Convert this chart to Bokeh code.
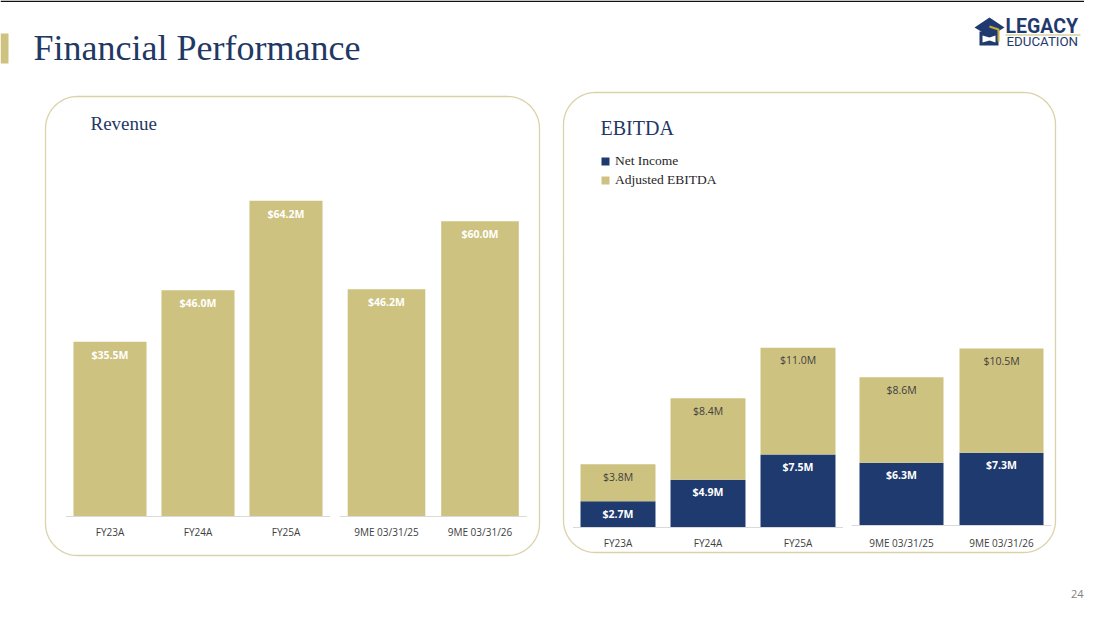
import numpy as np
from bokeh.plotting import figure
from bokeh.models import Range1d, ColumnDataSource, Legend, LegendItem
from bokeh.core.properties import value
from bokeh.embed import file_html
from bokeh.resources import INLINE

# ---------------- data ----------------
categories_fy = ["FY23A", "FY24A", "FY25A"]
categories_9me = ["9ME 03/31/25", "9ME 03/31/26"]
revenue_fy = [35.5, 46.0, 64.2]
revenue_9me = [46.2, 60.0]
net_income_fy = [2.7, 4.9, 7.5]
net_income_9me = [6.3, 7.3]
adj_ebitda_fy = [3.8, 8.4, 11.0]
adj_ebitda_9me = [8.6, 10.5]

# ---------------- style ----------------
GOLD = "#CEC280"
NAVY = "#1F3A6E"
TITLE_NAVY = "#1F3864"
PANEL_LINE = "#DAD2A8"
AXIS_LINE = "#D9D9D9"
LABEL_GRAY = "#404040"
SERIF = value("Liberation Serif")
SANS = value("Open Sans")

W, H = 1084, 605
OX, OY = 0, 0

p = figure(width=W, height=H, x_range=Range1d(OX, OX + W), y_range=Range1d(OY + H, OY),
           output_backend="svg", toolbar_location=None, x_axis_type=None, y_axis_type=None,
           min_border=0, outline_line_color=None, background_fill_color="white",
           border_fill_color="white")
for g in p.grid:
    g.visible = False


def add_sub(name, center0, spacing, base_px, px_per_unit):
    xs = -(center0 - OX) / spacing
    p.extra_x_ranges[name] = Range1d(xs, xs + W / spacing)
    ys = -(OY + H - base_px) / px_per_unit
    p.extra_y_ranges[name] = Range1d(ys, ys + H / px_per_unit)


def rrect(x0, y0, x1, y1, r, n=20):
    t = np.linspace(0, np.pi / 2, n)
    xs, ys = [], []
    for cx, cy, a0 in [(x0 + r, y0 + r, np.pi), (x1 - r, y0 + r, 1.5 * np.pi),
                       (x1 - r, y1 - r, 0.0), (x0 + r, y1 - r, 0.5 * np.pi)]:
        a = a0 + t
        xs += list(cx + r * np.cos(a))
        ys += list(cy + r * np.sin(a))
    xs.append(xs[0]); ys.append(ys[0])
    return xs, ys


# ---------------- header ----------------
p.segment(x0=[0], y0=[0.8], x1=[W], y1=[0.8], line_color="#111111", line_width=1.6)
p.quad(left=[0], right=[8], top=[33], bottom=[63], fill_color=GOLD, line_color=None)
p.text(x=[33], y=[47], text=["Financial Performance"], text_font=SERIF,
       text_font_size="36px", text_color=TITLE_NAVY, text_baseline="middle")

# logo
p.patch(x=[979, 979, 998, 998], y=[31, 45, 45, 31], fill_color=NAVY, line_color=None)
p.patch(x=[982, 982, 989, 995, 995, 989], y=[35, 42, 40, 42, 35, 37], fill_color="white", line_color=None)
p.patch(x=[974, 989, 1004, 989], y=[27, 17, 27, 36], fill_color=NAVY, line_color=None)
p.line(x=[989, 998, 998], y=[26, 29, 41], line_color="#C9A93A", line_width=2)
p.text(x=[1005], y=[25.5], text=["LEGACY"], text_font=value("Roboto"), text_font_size="19.5px",
       text_color=NAVY, text_baseline="middle", text_font_style="bold")
p.segment(x0=[1005], y0=[34.5], x1=[1080], y1=[34.5], line_color="#C9B870", line_width=1)
p.text(x=[1006], y=[40.5], text=["EDUCATION"], text_font=value("Roboto"), text_font_size="13.3px",
       text_color=NAVY, text_baseline="middle")

# panels
for box in [(45, 96, 539, 555), (563, 92, 1055, 552)]:
    xs, ys = rrect(*box, r=32)
    p.line(x=xs, y=ys, line_color=PANEL_LINE, line_width=1.3)

p.text(x=[90], y=[122.5], text=["Revenue"], text_font=SERIF, text_font_size="19px",
       text_color=TITLE_NAVY, text_baseline="middle")
p.text(x=[600], y=[127], text=["EBITDA"], text_font=SERIF, text_font_size="20px",
       text_color=TITLE_NAVY, text_baseline="middle")

# page number
p.text(x=[1083], y=[593], text=["24"], text_font=SANS, text_font_size="11px",
       text_color="#7F7F7F", text_align="right", text_baseline="middle")


def fmt(v):
    return [f"${x:.1f}M" for x in v]


def axis_and_labels(name, cats, offset):
    n = len(cats)
    p.segment(x0=[-0.5], y0=[0], x1=[n - 0.5], y1=[0], line_color=AXIS_LINE, line_width=1,
              x_range_name=name, y_range_name=name)
    p.text(x=list(range(n)), y=[0] * n, text=cats, text_font=SANS, text_font_size="10px",
           text_color=LABEL_GRAY, text_align="center", text_baseline="middle", y_offset=offset,
           x_range_name=name, y_range_name=name)


# ---------------- revenue ----------------
add_sub("rev_fy", 109.5, 88, 516, 4.92)
add_sub("rev_9me", 386, 93.5, 516, 4.92)
for name, cats, vals in [("rev_fy", categories_fy, revenue_fy), ("rev_9me", categories_9me, revenue_9me)]:
    src = ColumnDataSource(dict(x=list(range(len(cats))), top=vals, lab=fmt(vals)))
    p.vbar(x="x", top="top", bottom=0, width=0.83, source=src, fill_color=GOLD, line_color=None,
           x_range_name=name, y_range_name=name)
    p.text(x="x", y="top", text="lab", source=src, text_font=SANS, text_font_size="10.5px",
           text_font_style="bold", text_color="white", text_align="center", text_baseline="middle",
           y_offset=13, x_range_name=name, y_range_name=name)
    axis_and_labels(name, cats, 15)

# ---------------- EBITDA ----------------
add_sub("eb_fy", 617.5, 90, 527, 9.72)
add_sub("eb_9me", 901, 100, 525, 9.95)
legend_renderers = None
for name, cats, ni, adj, off, wd in [("eb_fy", categories_fy, net_income_fy, adj_ebitda_fy, 15, 0.833),
                                     ("eb_9me", categories_9me, net_income_9me, adj_ebitda_9me, 17, 0.84)]:
    ni_a = np.array(ni)
    tot = ni_a + np.array(adj)
    src = ColumnDataSource(dict(x=list(range(len(cats))), ni=ni, tot=list(tot),
                                ni_lab=fmt(ni), adj_lab=fmt(adj)))
    r_ni = p.vbar(x="x", top="ni", bottom=0, width=wd, source=src, fill_color=NAVY, line_color=None,
                  x_range_name=name, y_range_name=name)
    r_adj = p.vbar(x="x", top="tot", bottom="ni", width=wd, source=src, fill_color=GOLD, line_color=None,
                   x_range_name=name, y_range_name=name)
    p.text(x="x", y="ni", text="ni_lab", source=src, text_font=SANS, text_font_size="10.5px",
           text_font_style="bold", text_color="white", text_align="center", text_baseline="middle",
           y_offset=12.5, x_range_name=name, y_range_name=name)
    p.text(x="x", y="tot", text="adj_lab", source=src, text_font=SANS, text_font_size="10.5px",
           text_color=LABEL_GRAY, text_align="center", text_baseline="middle",
           y_offset=12.5, x_range_name=name, y_range_name=name)
    axis_and_labels(name, cats, off)
    if legend_renderers is None:
        legend_renderers = (r_ni, r_adj)

legend = Legend(items=[LegendItem(label="Net Income", renderers=[legend_renderers[0]]),
                       LegendItem(label="Adjusted EBITDA", renderers=[legend_renderers[1]])],
                location=(600 - OX, OY + H - 188), orientation="vertical",
                border_line_color=None, background_fill_alpha=0, padding=0, margin=0, spacing=3,
                glyph_width=10, glyph_height=10, label_standoff=5, label_height=16,
                label_text_font="Liberation Serif", label_text_font_size="13.5px",
                label_text_color="#262626")
p.add_layout(legend)

open("out.html", "w").write(file_html(p, INLINE))
